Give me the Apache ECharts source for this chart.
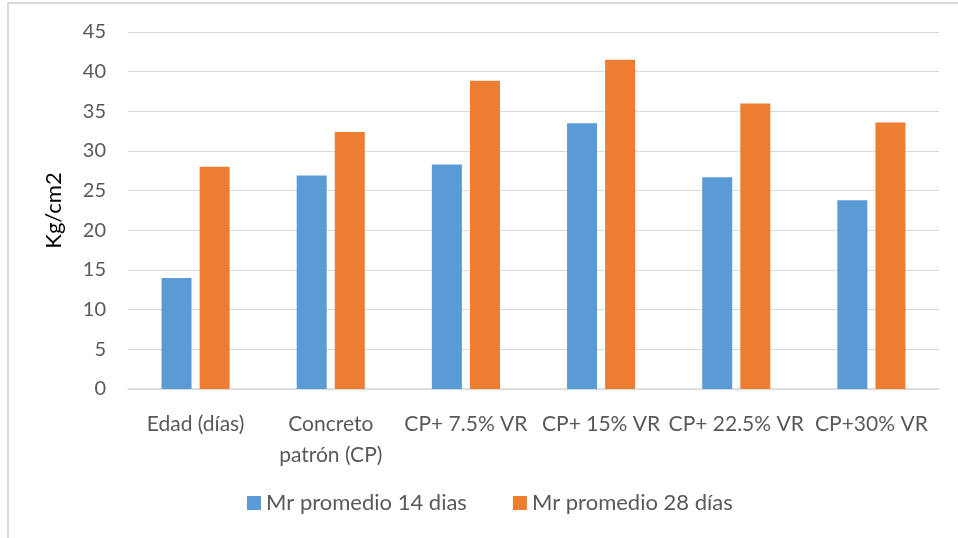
<!DOCTYPE html>
<html>
<head>
<meta charset="utf-8">
<script src="https://cdn.jsdelivr.net/npm/echarts@6/dist/echarts.min.js"></script>
<style>
  html, body { margin: 0; padding: 0; background: #fff; }
  #frame { position: absolute; left: 7px; top: 2px; width: 970px; height: 560px; border: 2px solid #d9d9d9; box-sizing: border-box; }
  #chart { position: absolute; left: 0; top: 0; width: 958px; height: 538px; }
</style>
</head>
<body>
<div id="frame"></div>
<div id="chart"></div>
<script>
const categories = ['Edad (días)', 'Concreto\npatrón (CP)', 'CP+ 7.5% VR', 'CP+ 15% VR', 'CP+ 22.5% VR', 'CP+30% VR']
const mr14 = [14.0, 26.9, 28.3, 33.5, 26.7, 23.8]
const mr28 = [28.0, 32.4, 38.85, 41.5, 36.0, 33.6]
const seriesNames = ['Mr promedio 14 dias', 'Mr promedio 28 días']
const yTicks = { min: 0, max: 45, interval: 5 }

const font = 'Lato, "Open Sans", sans-serif'
const chart = echarts.init(document.getElementById('chart'))

const option = {
  animation: false,
  textStyle: { fontFamily: font },
  grid: { left: 128, right: 19, top: 32, bottom: 149 },
  legend: {
    top: 487,
    left: 242,
    itemWidth: 14,
    itemHeight: 14,
    itemGap: 46,
    icon: 'rect',
    textStyle: { color: '#595959', fontSize: 22, fontFamily: font }
  },
  xAxis: {
    type: 'category',
    data: categories,
    axisLine: { lineStyle: { color: '#d9d9d9', width: 1.5 } },
    axisTick: { show: false },
    axisLabel: { color: '#595959', fontSize: 21, margin: 20, lineHeight: 31, interval: 0, fontFamily: font }
  },
  yAxis: {
    type: 'value',
    min: yTicks.min,
    max: yTicks.max,
    interval: yTicks.interval,
    name: 'Kg/cm2',
    nameLocation: 'middle',
    nameGap: 63,
    nameTextStyle: { color: '#000', fontSize: 22, fontFamily: font },
    axisLine: { show: false },
    axisTick: { show: false },
    axisLabel: { color: '#595959', fontSize: 20, margin: 22, fontFamily: font },
    splitLine: { lineStyle: { color: '#d9d9d9', width: 1.2 } }
  },
  series: [
    {
      name: seriesNames[0],
      type: 'bar',
      data: mr14,
      barWidth: 30,
      barGap: '27%',
      itemStyle: { color: '#5b9bd5' }
    },
    {
      name: seriesNames[1],
      type: 'bar',
      data: mr28,
      barWidth: 30,
      barGap: '27%',
      itemStyle: { color: '#ed7d31' }
    }
  ]
}

chart.setOption(option)
</script>
</body>
</html>
